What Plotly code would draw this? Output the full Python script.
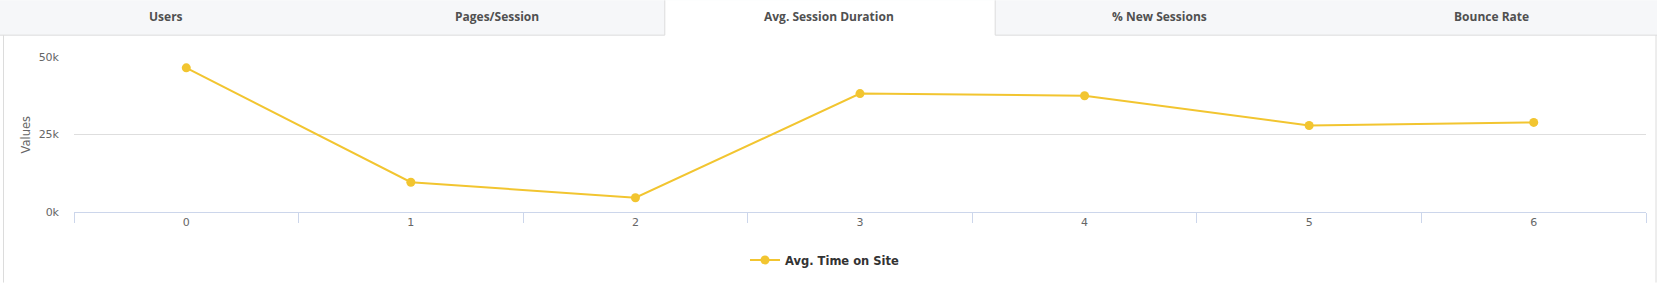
import plotly.graph_objects as go

categories = ["0", "1", "2", "3", "4", "5", "6"]
avg_time_on_site = [46500, 9600, 4600, 38200, 37500, 27900, 28900]
y_tick_vals = [0, 25000, 50000]
y_tick_text = ["0k", "25k", "50k"]
tab_labels = ["Users", "Pages/Session", "Avg. Session Duration", "% New Sessions", "Bounce Rate"]
active_tab = 2
series_name = "Avg. Time on Site"

W, H = 1657, 284
ML, MR, MT, MB = 74, 11, 57, 71
PW = W - ML - MR
PH = H - MT - MB

def px(x):
    return (x - ML) / PW

def py(y):
    return (H - MB - y) / PH

COLOR = "#f2c530"
BORDER = "#dcdcdc"

fig = go.Figure()
fig.add_trace(go.Scatter(
    x=categories, y=avg_time_on_site, mode="lines+markers", name=series_name,
    line=dict(color=COLOR, width=2), marker=dict(color=COLOR, size=9),
))

shapes = []
annotations = []
tab_w = W / len(tab_labels)
# tab bar background (inactive)
shapes.append(dict(type="rect", xref="paper", yref="paper", x0=px(0), x1=px(W), y0=py(0), y1=py(35),
                   fillcolor="#f6f7f9", line=dict(width=0), layer="below"))
a0 = active_tab * tab_w + 2
a1 = (active_tab + 1) * tab_w + 1
shapes.append(dict(type="rect", xref="paper", yref="paper", x0=px(a0), x1=px(a1), y0=py(0), y1=py(35.5),
                   fillcolor="white", line=dict(width=0), layer="below"))
# bottom border of tab bar except under active tab
shapes.append(dict(type="line", xref="paper", yref="paper", x0=px(0), x1=px(a0), y0=py(35), y1=py(35),
                   line=dict(color=BORDER, width=1)))
shapes.append(dict(type="line", xref="paper", yref="paper", x0=px(a1), x1=px(W), y0=py(35), y1=py(35),
                   line=dict(color=BORDER, width=1)))
for xv in (a0, a1):
    shapes.append(dict(type="line", xref="paper", yref="paper", x0=px(xv), x1=px(xv), y0=py(0), y1=py(35),
                       line=dict(color=BORDER, width=1)))
# content box borders
for xv in (3.5, 1656):
    shapes.append(dict(type="line", xref="paper", yref="paper", x0=px(xv), x1=px(xv), y0=py(35), y1=py(H),
                       line=dict(color=BORDER, width=1)))

for i, lab in enumerate(tab_labels):
    annotations.append(dict(
        text=lab, xref="paper", yref="paper", x=px(tab_w * (i + 0.5)), y=py(16),
        xanchor="center", yanchor="middle", showarrow=False,
        font=dict(family="Open Sans", size=12, color="#505050", weight=700),
    ))

annotations.append(dict(
    text="Values", xref="paper", yref="paper", x=px(25), y=py(135), textangle=-90,
    xanchor="center", yanchor="middle", showarrow=False,
    font=dict(family="DejaVu Sans", size=11.5, color="#666666"),
))

fig.update_layout(
    width=W, height=H,
    margin=dict(l=ML, r=MR, t=MT, b=MB),
    paper_bgcolor="white", plot_bgcolor="white",
    shapes=shapes, annotations=annotations,
    showlegend=True,
    legend=dict(orientation="h", x=px(745), xanchor="left", y=py(260), yanchor="middle",
                font=dict(family="DejaVu Sans", size=11.5, color="#333333", weight="bold"),
                bgcolor="rgba(0,0,0,0)", itemwidth=30),
    xaxis=dict(
        type="category", range=[-0.5, 6.5], tickson="boundaries",
        ticks="outside", ticklen=10, tickcolor="#ccd6eb", tickwidth=1,
        showline=True, linecolor="#ccd6eb", linewidth=1, showgrid=False, zeroline=False,
        tickfont=dict(family="DejaVu Sans", size=11, color="#666666"),
        fixedrange=True,
    ),
    yaxis=dict(
        range=[0, 50000], tickvals=y_tick_vals, ticktext=y_tick_text,
        showgrid=True, gridcolor="#dedede", gridwidth=1, zeroline=False, showline=False,
        ticks="", ticklabelstandoff=14,
        tickfont=dict(family="DejaVu Sans", size=11, color="#666666"),
        fixedrange=True,
    ),
)

fig.write_html("out.html")
